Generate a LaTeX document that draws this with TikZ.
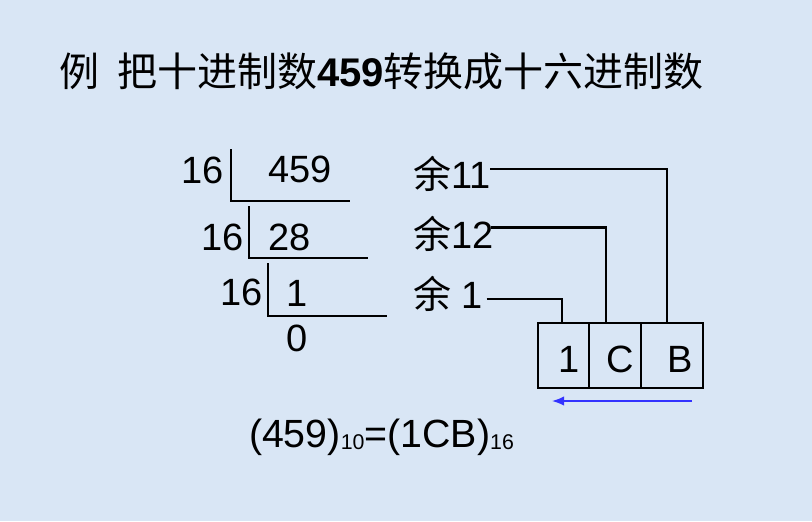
\documentclass[tikz,border=0pt]{standalone}
\usepackage{fontspec}
\setmainfont{Liberation Sans}
\newfontfamily\cjk{Noto Sans CJK SC}
\usetikzlibrary{arrows.meta}
\definecolor{bgblue}{RGB}{217,230,245}
\definecolor{arrowblue}{RGB}{51,51,255}
\tikzset{
  txt/.style={inner sep=0pt, outer sep=0pt, font=\fontsize{28.5pt}{30pt}\selectfont},
  ttl/.style={inner sep=0pt, outer sep=0pt, font=\fontsize{30pt}{32pt}\selectfont},
  rule/.style={line width=1.7pt},
  cell/.style={draw, line width=1.7pt, inner sep=0pt, minimum height=48.75pt},
  link/.style={line width=1.7pt},
  order/.style={line width=1.1pt, draw=arrowblue, -{Latex[length=9pt,width=7pt]}}
}
\begin{document}
\begin{tikzpicture}[x=0.75pt,y=-0.75pt]
\fill[bgblue] (0,0) rectangle (812,521);
\useasboundingbox (0,0) rectangle (812,521);
% title
\node[ttl, anchor=base west] (title) at (59,86)
  {{\cjk 例\hspace{13.5pt}把十进制数}{\bfseries 459}{\cjk 转换成十六进制数}};
% division
\node[txt, anchor=base east] (d1) at (224,183) {16};
\node[txt, anchor=base west] (q1) at (268,182) {459};
\node[txt, anchor=base east] (d2) at (244,250) {16};
\node[txt, anchor=base west] (q2) at (268,250) {28};
\node[txt, anchor=base east] (d3) at (263,305) {16};
\node[txt, anchor=base] (q3) at (297,306) {1};
\node[txt, anchor=base] (q4) at (297,351) {0};
\coordinate (v1t) at (231,149); \coordinate (v1b) at (231,201); \coordinate (h1e) at (350,201);
\coordinate (v2t) at (249,206); \coordinate (v2b) at (249,258); \coordinate (h2e) at (368,258);
\coordinate (v3t) at (268,263); \coordinate (v3b) at (268,316); \coordinate (h3e) at (387,316);
\draw[rule] (v1t) -- (v1b) -- (h1e);
\draw[rule] (v2t) -- (v2b) -- (h2e);
\draw[rule] (v3t) -- (v3b) -- (h3e);
% remainders
\node[txt, anchor=base west] (r1) at (413,188) {{\cjk 余}11};
\node[txt, anchor=base west] (r2) at (413,248) {{\cjk 余}12};
\node[txt, anchor=base west] (r3) at (413,308) {{\cjk 余} 1};
% result cells
\node[cell, minimum width=38.25pt] (c1) at (563.5,355.5) {};
\node[cell, minimum width=39pt] (c2) at (615,355.5) {};
\node[cell, minimum width=46.5pt] (c3) at (672,355.5) {};
\node[txt, anchor=base east] (t1) at (580,372) {1};
\node[txt, anchor=base] (t2) at (620,372) {C};
\node[txt, anchor=base] (t3) at (680,372) {B};
% connectors
\draw[link] ([yshift=3.5pt]r1.east) -| ([xshift=-3.75pt]c3.north);
\draw[link] ([xshift=-2pt,yshift=4.5pt]r2.east) -| ([xshift=-6.75pt]c2.north);
\draw[link] ([xshift=3pt,yshift=-4pt]r3.east) -| ([xshift=-1pt]c1.north);
% reading order arrow
\coordinate (aS) at (692,401);
\coordinate (aE) at (552,401);
\draw[order] (aS) -- (aE);
% result formula
\node[txt, anchor=base west, font=\fontsize{29.5pt}{31pt}\selectfont] (res) at (249,447)
  {(459)\raisebox{-1.5pt}{\fontsize{16pt}{17pt}\selectfont 10}=(1CB)\raisebox{-1.5pt}{\fontsize{16pt}{17pt}\selectfont 16}};
\end{tikzpicture}
\end{document}
